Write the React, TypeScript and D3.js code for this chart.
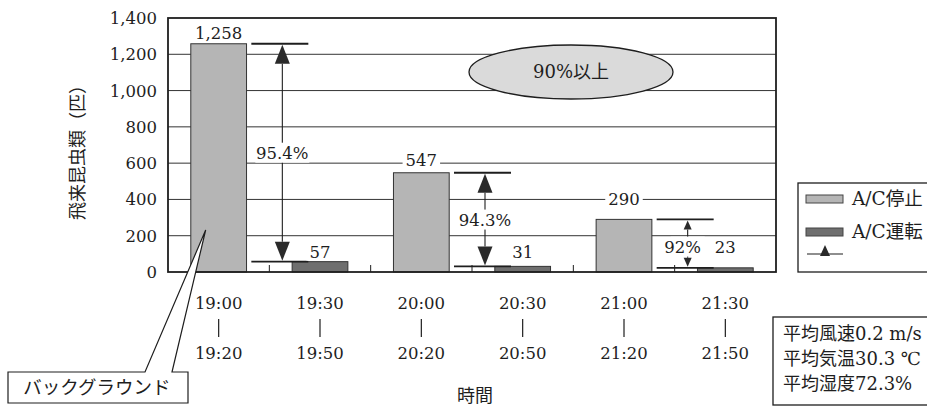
import React from 'react';
import * as d3 from 'd3';

// ---- data ----
const timeFrom = ['19:00', '19:30', '20:00', '20:30', '21:00', '21:30'];
const timeTo = ['19:20', '19:50', '20:20', '20:50', '21:20', '21:50'];
const seriesOf = [0, 1, 0, 1, 0, 1];
const counts = [1258, 57, 547, 31, 290, 23];
const seriesNames = ['A/C停止', 'A/C運転'];
const reductionPairs = [[0, 1], [2, 3], [4, 5]];
const reductionLabels = ['95.4%', '94.3%', '92%'];
const yTicks = [0, 200, 400, 600, 800, 1000, 1200, 1400];
const conditions = ['平均風速0.2 m/s', '平均気温30.3 ℃', '平均湿度72.3%'];
const noteText = '90%以上';
const calloutText = 'バックグラウンド';
const yTitle = '飛来昆虫類（匹）';
const xTitle = '時間';

// ---- layout / style ----
const W = 927, H = 407;
const P = { left: 168, right: 776, top: 18, bottom: 272 };
const LABEL_LIFT = [11, 10, 13, 14, 20, 21];
const FILLS = ['#b5b5b5', '#6f6f6f'];
const INK = '#1e1e1e';
const SERIF = "'DejaVu Serif', 'Noto Sans CJK JP', serif";
const JP = "'Noto Sans CJK JP', sans-serif";

export default function App() {
  const y = d3.scaleLinear().domain([0, 1400]).range([P.bottom, P.top]);
  const x = d3.scaleBand<number>().domain(d3.range(counts.length)).range([P.left, P.right])
    .paddingInner(0.45).paddingOuter(0.225);
  const step = x.step();
  const bw = x.bandwidth();
  const fmt = d3.format(',');
  const cx = (i: number) => (x(i) as number) + bw / 2;
  const boundaries = d3.range(1, counts.length).map(i => (x(i) as number) - step * 0.225);

  const valueLabels = counts.map((v, i) => {
    const s = fmt(v);
    const cy = y(v) - LABEL_LIFT[i];
    const w = s.length * 10.5 + 6;
    return (
      <g key={'vl' + i}>
        <rect x={cx(i) - w / 2} y={cy - 9} width={w} height={18} fill="#fff" />
        <text x={cx(i)} y={cy + 6} textAnchor="middle" fontSize={16.5} fontFamily={SERIF} fill={INK}>{s}</text>
      </g>
    );
  });

  const arrows = reductionPairs.map(([a, b], k) => {
    const ax = boundaries[a] + 13;
    const yt = y(counts[a]);
    const yb = y(counts[b]);
    const big = yb - yt > 80;
    const tw = big ? 7.5 : 4;
    const th = big ? 20 : 10;
    const mid = (yt + yb) / 2 + (big ? 0 : 3);
    const lbl = reductionLabels[k];
    const lw = lbl.length * 10 + 4;
    return (
      <g key={'ar' + k}>
        <line x1={ax - 31} x2={ax + 26} y1={yt} y2={yt} stroke={INK} strokeWidth={1.8} />
        <line x1={ax - 31} x2={ax + 26} y1={yb} y2={yb} stroke={INK} strokeWidth={1.8} />
        <line x1={ax} x2={ax} y1={yt + th} y2={yb - th} stroke={INK} strokeWidth={1.1} />
        <path d={`M${ax},${yt + 1} L${ax - tw},${yt + th} L${ax + tw},${yt + th} Z`} fill="#2a2a2a" />
        <path d={`M${ax},${yb - 1} L${ax - tw},${yb - th} L${ax + tw},${yb - th} Z`} fill="#2a2a2a" />
        <rect x={ax - lw / 2} y={mid - 10} width={lw} height={20} fill="#fff" />
        <text x={ax - (big ? 0 : 5)} y={mid + 6} textAnchor="middle" fontSize={16.5} fontFamily={SERIF} fill={INK}>{lbl}</text>
      </g>
    );
  });

  return (
    <svg width={W} height={H} style={{ position: 'absolute', left: 0, top: 0, background: '#fff' }}>
      {/* gridlines */}
      {yTicks.filter(t => t > 0 && t < 1400).map(t => (
        <line key={'g' + t} x1={P.left} x2={P.right} y1={y(t)} y2={y(t)} stroke="#333" strokeWidth={1} />
      ))}
      {/* bars */}
      {counts.map((v, i) => (
        <rect key={'b' + i} x={x(i)} y={y(v)} width={bw} height={P.bottom - y(v)}
          fill={FILLS[seriesOf[i]]} stroke="#333" strokeWidth={1} />
      ))}
      {/* frame */}
      <rect x={P.left} y={P.top} width={P.right - P.left} height={P.bottom - P.top} fill="none" stroke={INK} strokeWidth={1.8} />
      {/* bottom ticks */}
      {boundaries.map((bx, i) => (
        <line key={'t' + i} x1={bx} x2={bx} y1={P.bottom} y2={P.bottom - 7} stroke={INK} strokeWidth={1} />
      ))}
      {arrows}
      {valueLabels}
      {/* y tick labels */}
      {yTicks.map(t => (
        <text key={'yt' + t} x={157} y={y(t) + 6} textAnchor="end" fontSize={16.5} fontFamily={SERIF} fill={INK}>{fmt(t)}</text>
      ))}
      <text transform={`translate(84,148) rotate(-90)`} textAnchor="middle" fontSize={18} fontFamily={JP} fill={INK}>{yTitle}</text>
      {/* x labels */}
      {timeFrom.map((t, i) => (
        <g key={'xl' + i}>
          <text x={cx(i)} y={309} textAnchor="middle" fontSize={16.5} fontFamily={SERIF} fill={INK}>{t}</text>
          <line x1={cx(i)} x2={cx(i)} y1={319} y2={337} stroke={INK} strokeWidth={1.2} />
          <text x={cx(i)} y={359} textAnchor="middle" fontSize={16.5} fontFamily={SERIF} fill={INK}>{timeTo[i]}</text>
        </g>
      ))}
      <text x={475} y={402} textAnchor="middle" fontSize={18} fontFamily={JP} fill={INK}>{xTitle}</text>
      {/* ellipse note */}
      <ellipse cx={571} cy={72} rx={102} ry={27} fill="#dadada" stroke={INK} strokeWidth={1.3} />
      <text x={571} y={78} textAnchor="middle" fontSize={18} fontFamily={SERIF} fill={INK}>{noteText}</text>
      {/* callout */}
      <path d={`M8,372 H145 L${cx(0) - 13},230 L172,372 H188 V403 H8 Z`} fill="#fff" stroke={INK} strokeWidth={1.2} />
      <text x={97} y={394} textAnchor="middle" fontSize={18.5} fontFamily={JP} fill={INK}>{calloutText}</text>
      {/* legend */}
      <rect x={798} y={183} width={150} height={89} fill="#fff" stroke={INK} strokeWidth={1.3} />
      {seriesNames.map((s, i) => (
        <g key={'lg' + i}>
          <rect x={806} y={195 + i * 33} width={37} height={8} fill={FILLS[i]} stroke="#444" strokeWidth={1} />
          <text x={852} y={205 + i * 33} fontSize={18.5} fontFamily={SERIF} fill={INK}>{s}</text>
        </g>
      ))}
      <line x1={807} x2={843} y1={254} y2={254} stroke={INK} strokeWidth={1.2} />
      <path d="M825,245 L820,256 L830,256 Z" fill="#2a2a2a" />
      {/* conditions */}
      <rect x={773} y={317} width={170} height={88} fill="#fff" stroke={INK} strokeWidth={1.3} />
      {conditions.map((c, i) => (
        <text key={'c' + i} x={783} y={340 + i * 25} fontSize={18} fontFamily={SERIF} fill={INK}>{c}</text>
      ))}
    </svg>
  );
}
